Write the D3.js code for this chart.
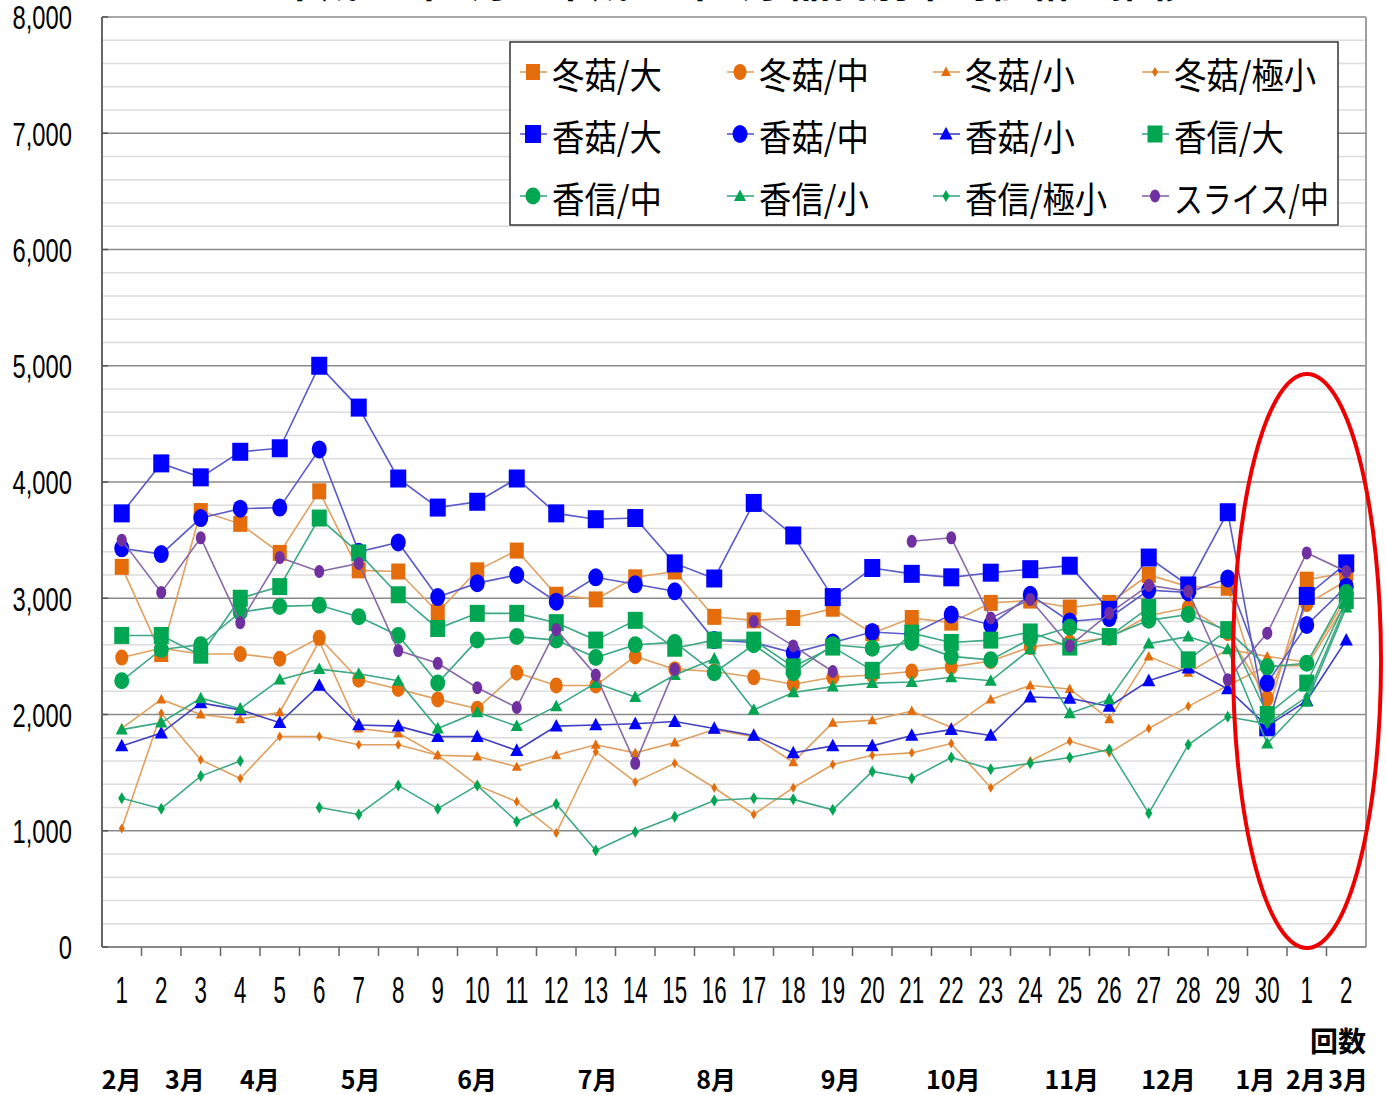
<!DOCTYPE html>
<html><head><meta charset="utf-8">
<script src="https://cdn.jsdelivr.net/npm/d3@7/dist/d3.min.js"></script>
<style>body{margin:0;background:#fff}svg{display:block}</style>
</head><body>
<svg id="c" width="1386" height="1095"></svg>
<script>
// ---- data ----
const rounds = ["1","2","3","4","5","6","7","8","9","10","11","12","13","14","15","16","17","18","19","20","21","22","23","24","25","26","27","28","29","30","1","2"];
const yTicks = [0,1000,2000,3000,4000,5000,6000,7000,8000];
const months = ["2月","3月","4月","5月","6月","7月","8月","9月","10月","11月","12月","1月","2月","3月"];
const monthRound = [1,2.6,4.5,7.05,10,13.05,16.05,19.2,22.05,25.05,27.5,29.7,30.98,32.05];
const seriesNames = ["冬菇/大","冬菇/中","冬菇/小","冬菇/極小","香菇/大","香菇/中","香菇/小","香信/大","香信/中","香信/小","香信/極小","スライス/中"];

const dongguDai  = [3270,2520,3750,3640,3390,3920,3240,3230,2880,3240,3410,3030,2990,3180,3230,2840,2810,2830,2910,2700,2830,2790,2960,2980,2920,2960,3200,3100,3090,2000,3160,3220];
const dongguChu  = [2490,2570,2520,2520,2480,2660,2300,2220,2130,2050,2360,2250,2250,2500,2390,2370,2320,2260,2320,2340,2370,2410,2460,2580,2620,2660,2850,2920,2700,2140,2950,3150];
const dongguSho  = [1880,2130,2000,1960,2020,2630,1880,1840,1650,1640,1550,1650,1740,1670,1760,1870,1810,1590,1930,1950,2030,1890,2130,2250,2220,1960,2500,2360,2560,2500,2450,3000];
const dongguGoku = [1020,2010,1610,1450,1810,1810,1740,1740,1650,1390,1250,980,1680,1420,1580,1370,1140,1370,1570,1650,1670,1750,1370,1600,1770,1670,1880,2070,2250,2420,2420,2960];
const koukoDai   = [3730,4160,4040,4260,4290,5000,4640,4030,3780,3830,4030,3730,3680,3690,3300,3170,3820,3540,3010,3260,3210,3180,3220,3250,3280,2900,3350,3110,3740,1890,3020,3300];
const koukoChu   = [3430,3380,3690,3770,3780,4280,3400,3480,3010,3130,3200,2970,3180,3120,3060,2640,2620,2530,2620,2710,2690,2860,2770,3030,2800,2830,3070,3050,3170,2270,2770,3100];
const koukoSho   = [1730,1840,2100,2040,1930,2250,1910,1900,1810,1810,1690,1900,1910,1920,1940,1880,1820,1670,1730,1730,1820,1870,1820,2150,2140,2070,2290,2400,2220,1900,2120,2640];
const koushinDai = [2680,2680,2510,3000,3100,3690,3390,3030,2740,2870,2870,2790,2640,2810,2570,2640,2640,2410,2580,2380,2700,2620,2640,2710,2580,2670,2920,2470,2730,2000,2270,2980];
const koushinChu = [2290,2560,2600,2880,2930,2940,2840,2680,2270,2640,2670,2640,2490,2600,2620,2360,2600,2360,2600,2570,2620,2500,2470,2650,2750,2670,2810,2860,2720,2410,2440,3050];
const koushinSho = [1870,1930,2140,2050,2300,2390,2350,2290,1880,2020,1900,2070,2270,2150,2340,2480,2040,2190,2240,2270,2280,2320,2290,2560,2010,2130,2610,2670,2560,1750,2110,2920];
const koushinGoku= [1280,1190,1470,1600,null,1200,1140,1390,1190,1390,1080,1230,830,990,1120,1260,1280,1270,1180,1510,1450,1630,1530,1580,1630,1700,1150,1740,1980,1920,2150,2950];
const slice      = [3500,3050,3520,2790,3350,3230,3300,2550,2440,2230,2060,2730,2340,1580,2390,null,2800,2590,2370,null,3490,3520,2830,2990,2590,2870,3110,3060,2300,2700,3390,3230];

const seriesValues = [dongguDai,dongguChu,dongguSho,dongguGoku,koukoDai,koukoChu,koukoSho,koushinDai,koushinChu,koushinSho,koushinGoku,slice];

// ---- styles ----
const ORG="#E46C0A", BLU="#0000FF", GRN="#00A651", PUR="#7030A0";
const styles = [
  {shape:"square",  fill:ORG, line:"#E0A060", s:14},
  {shape:"circle",  fill:ORG, line:"#E0A060", rx:6.5, ry:8},
  {shape:"triangle",fill:ORG, line:"#E0A060", s:9},
  {shape:"diamond", fill:ORG, line:"#E0A060", s:5},
  {shape:"square",  fill:BLU, line:"#5A5AC8", s:16},
  {shape:"circle",  fill:BLU, line:"#5A5AC8", rx:7.5, ry:9},
  {shape:"triangle",fill:BLU, line:"#4040C0", s:12},
  {shape:"square",  fill:GRN, line:"#3CA884", s:15},
  {shape:"circle",  fill:GRN, line:"#3CA884", rx:7.5, ry:8.5},
  {shape:"triangle",fill:GRN, line:"#3CA884", s:11},
  {shape:"diamond", fill:GRN, line:"#3CA884", s:6},
  {shape:"circle",  fill:PUR, line:"#8868A8", rx:5, ry:6.5}
];

const svg = d3.select("#c");
const L=102, R=1366, T=17, B=947;
const x = d3.scaleBand().domain(d3.range(rounds.length)).range([L,R]).padding(0);
const cx = i => x(i) + x.bandwidth()/2;
const xr = d3.scaleLinear().domain([1, rounds.length]).range([cx(0), cx(rounds.length-1)]);
const y = d3.scaleLinear().domain([0,8000]).range([B,T]);

// title (clipped at top, as in the reference)
svg.append("text").attr("x",735).attr("y",-3).attr("text-anchor","middle")
  .attr("font-family","Noto Sans CJK JP").attr("font-size",40).attr("font-weight","bold")
  .text("平成19年2月～平成20年3月 品目別平均価格の推移");

// grid
const minor = d3.range(200,8000,200).filter(v=>v%1000!==0);
svg.append("g").selectAll("line").data(minor).join("line")
  .attr("x1",L).attr("x2",R).attr("y1",d=>y(d)).attr("y2",d=>y(d))
  .attr("stroke","#dcdcdc").attr("stroke-width",1.5);
svg.append("g").selectAll("line").data(yTicks.filter(v=>v>0)).join("line")
  .attr("x1",L).attr("x2",R).attr("y1",d=>y(d)).attr("y2",d=>y(d))
  .attr("stroke","#8a8a8a").attr("stroke-width",1.5);
svg.append("line").attr("x1",R).attr("x2",R).attr("y1",T).attr("y2",B).attr("stroke","#a0a0a0").attr("stroke-width",2);
svg.append("line").attr("x1",L).attr("x2",L).attr("y1",T).attr("y2",B).attr("stroke","#666").attr("stroke-width",2);
svg.append("line").attr("x1",L).attr("x2",R).attr("y1",B).attr("y2",B).attr("stroke","#888").attr("stroke-width",2);
svg.append("g").selectAll("line").data(yTicks).join("line")
  .attr("x1",L).attr("x2",L+6).attr("y1",d=>y(d)).attr("y2",d=>y(d)).attr("stroke","#555").attr("stroke-width",1.5);
svg.append("g").selectAll("line").data(d3.range(1,rounds.length)).join("line")
  .attr("x1",d=>x(d)).attr("x2",d=>x(d)).attr("y1",B).attr("y2",B+9).attr("stroke","#666").attr("stroke-width",1.5);

// y labels (narrow)
svg.append("g").selectAll("g").data(yTicks).join("g")
  .attr("transform",d=>`translate(72,${y(d)+1}) scale(0.72,1)`)
  .append("text").attr("text-anchor","end").attr("dominant-baseline","central")
  .attr("font-family","Liberation Sans").attr("font-size",33).attr("fill","#000")
  .text(d=>d3.format(",")(d));

// x labels
svg.append("g").selectAll("g").data(rounds).join("g")
  .attr("transform",(d,i)=>`translate(${cx(i)},990) scale(0.62,1)`)
  .append("text").attr("text-anchor","middle").attr("dominant-baseline","central")
  .attr("font-family","Liberation Sans").attr("font-size",36).attr("fill","#000")
  .text(d=>d);

svg.append("text").attr("x",1366).attr("y",1040).attr("text-anchor","end").attr("dominant-baseline","central")
  .attr("font-family","Noto Sans CJK JP").attr("font-size",28).attr("font-weight","bold").text("回数");

svg.append("g").selectAll("text").data(months).join("text")
  .attr("x",(d,i)=>xr(monthRound[i])).attr("y",1078).attr("text-anchor","middle").attr("dominant-baseline","central")
  .attr("font-family","Noto Sans CJK JP").attr("font-size",25).attr("font-weight","bold").text(d=>d);

function marker(g, st, px, py){
  if(st.shape==="square"){
    g.append("rect").attr("x",px-st.s/2).attr("y",py-st.s/2-1).attr("width",st.s).attr("height",st.s+2).attr("fill",st.fill);
  } else if(st.shape==="circle"){
    g.append("ellipse").attr("cx",px).attr("cy",py).attr("rx",st.rx).attr("ry",st.ry).attr("fill",st.fill);
  } else if(st.shape==="triangle"){
    const s=st.s;
    g.append("path").attr("d",`M${px},${py-s*0.6}L${px+s*0.55},${py+s*0.45}L${px-s*0.55},${py+s*0.45}Z`).attr("fill",st.fill);
  } else {
    const s=st.s;
    g.append("path").attr("d",`M${px},${py-s}L${px+s*0.6},${py}L${px},${py+s}L${px-s*0.6},${py}Z`).attr("fill",st.fill);
  }
}

const line = d3.line().defined(d=>d!=null).x((d,i)=>cx(i)).y(d=>y(d));
const plot = svg.append("g");
seriesValues.forEach((vals,k)=>{
  const st=styles[k];
  const g=plot.append("g");
  g.append("path").attr("d",line(vals)).attr("fill","none").attr("stroke",st.line).attr("stroke-width",1.6);
  vals.forEach((v,i)=>{ if(v!=null) marker(g,st,cx(i),y(v)); });
});

// legend
const lg = svg.append("g");
lg.append("rect").attr("x",510).attr("y",42).attr("width",828).attr("height",183)
  .attr("fill","#fff").attr("stroke","#333").attr("stroke-width",1.5);
const colX=[533,740,946,1155], rowY=[72,134,196];
seriesNames.forEach((n,k)=>{
  const cX=colX[k%4], cY=rowY[Math.floor(k/4)], st=styles[k];
  const g=lg.append("g");
  g.append("line").attr("x1",cX-13).attr("x2",cX+14).attr("y1",cY).attr("y2",cY).attr("stroke",st.line).attr("stroke-width",1.6);
  marker(g,st,cX,cY);
  const t = g.append("g").attr("transform",`translate(${cX+19},${cY+1}) scale(0.9,1)`)
   .append("text").attr("dominant-baseline","central").attr("font-family","Noto Sans CJK JP")
   .attr("font-size",36).attr("fill","#000").text(n);
  if(n.length>5) t.attr("textLength",172).attr("lengthAdjust","spacingAndGlyphs");
});

// red ellipse annotation
svg.append("ellipse").attr("cx",1307).attr("cy",661).attr("rx",74).attr("ry",287)
  .attr("fill","none").attr("stroke","#EE0000").attr("stroke-width",4);
</script>
</body></html>
